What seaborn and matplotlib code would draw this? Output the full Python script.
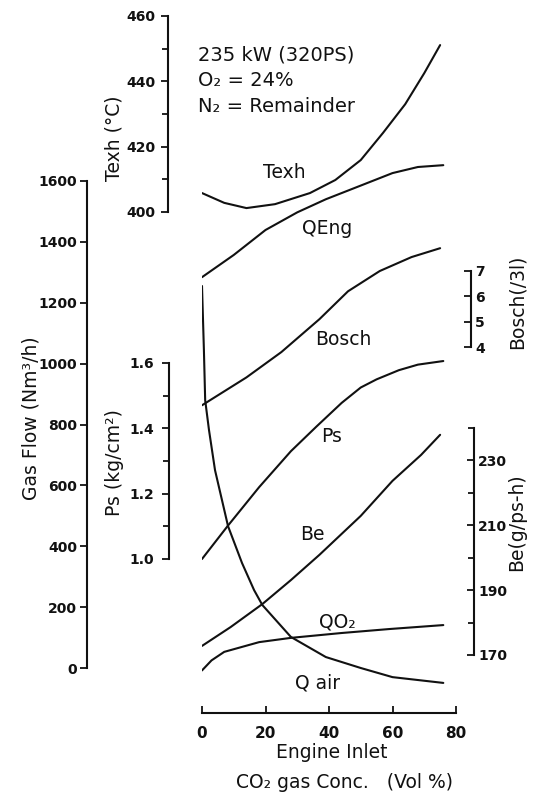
import seaborn as sns
import matplotlib.pyplot as plt
from matplotlib.ticker import FixedLocator, FixedFormatter

# values (x = engine inlet CO2 conc., Vol %)
conc_texh = [0, 7, 14, 23, 34, 42, 50, 57, 64, 70, 75]
texh = [405.8, 402.8, 401.2, 402.4, 405.8, 409.8, 415.9, 424.2, 433.0, 442.5, 451.1]

conc_qeng = [0, 10, 20, 30, 39, 50, 60, 68, 76]
qeng = [1284, 1357, 1439, 1497, 1540, 1585, 1626, 1646, 1652]

conc_bosch = [0, 14, 25, 37, 46, 56, 66, 75]
bosch = [1.7, 2.8, 3.8, 5.1, 6.2, 7.0, 7.55, 7.9]

conc_ps = [0, 8, 18, 28, 36, 44, 50, 55, 62, 68, 76]
ps = [1.00, 1.10, 1.22, 1.33, 1.405, 1.478, 1.525, 1.55, 1.578, 1.595, 1.606]

conc_be = [0, 9, 19, 28, 37, 50, 60, 69, 75]
be = [172.8, 178.6, 185.7, 193.1, 200.9, 212.9, 223.7, 231.7, 237.9]

conc_qo2 = [0, 3, 7, 18, 28, 44, 59, 76]
qo2 = [-8, 25, 53, 85, 99, 115, 128, 141]

conc_qair = [0, 0.6, 1.0, 2.2, 4.1, 8.2, 12.6, 16.4, 19, 28, 39, 50, 60, 76]
qair = [1255, 1045, 880, 782, 650, 466, 345, 256, 207, 102, 36, 0, -30, -49]

x_ticks = [0, 20, 40, 60, 80]
flow_ticks = [0, 200, 400, 600, 800, 1000, 1200, 1400, 1600]
texh_ticks = [400, 420, 440, 460]
ps_ticks = [1.0, 1.2, 1.4, 1.6]
ps_labels = ['1.0', '1.2', '1.4', '1.6']
bosch_ticks = [4, 5, 6, 7]
be_ticks = [170, 190, 210, 230]

# page geometry (pixels of the 555x800 scan)
W, H = 555, 800
TOP, BOT = 16, 713
LEFT, RIGHT = 202, 456

sns.set_theme(style='white')
plt.rcParams['font.family'] = ['DejaVu Sans']
ink = '#111111'

fig = plt.figure(figsize=(W / 100, H / 100), dpi=100)
rect = [LEFT / W, 1 - BOT / H, (RIGHT - LEFT) / W, (BOT - TOP) / H]


def lims(v1, p1, v2, p2):
    # y limits so that value v1 sits at pixel row p1 and v2 at p2
    s = (v2 - v1) / (p1 - p2)
    return v1 - (BOT - p1) * s, v1 + (p1 - TOP) * s


def frac(px):
    return (px - LEFT) / (RIGHT - LEFT)


def y_axis(a, side, xpx, bounds, major, labels=None, minor=None, pad=3):
    for s in a.spines.values():
        s.set_visible(False)
    sp = a.spines[side]
    sp.set_visible(True)
    sp.set_position(('axes', frac(xpx)))
    sp.set_bounds(*bounds)
    sp.set_linewidth(1.5)
    sp.set_color(ink)
    a.yaxis.set_ticks_position(side)
    a.yaxis.set_major_locator(FixedLocator(major))
    if labels is not None:
        a.yaxis.set_major_formatter(FixedFormatter(labels))
    if minor is not None:
        a.yaxis.set_minor_locator(FixedLocator(minor))
    d = 'out' if side == 'left' else 'in'
    a.tick_params(axis='y', which='both', direction=d, color=ink, width=1.3,
                  labelsize=10, pad=pad, labelcolor=ink)
    a.tick_params(axis='y', which='major', length=5)
    a.tick_params(axis='y', which='minor', length=4)
    for t in a.get_yticklabels():
        t.set_fontweight('bold')
    a.set_ylabel('')
    a.set_xlabel('')
    a.tick_params(axis='x', bottom=False, labelbottom=False)
    a.patch.set_visible(False)
    a.grid(False)


ax = fig.add_axes(rect)
ax_t = fig.add_axes(rect, sharex=ax)
ax_p = fig.add_axes(rect, sharex=ax)
ax_b = fig.add_axes(rect, sharex=ax)
ax_e = fig.add_axes(rect, sharex=ax)

line = dict(color=ink, linewidth=1.5)
sns.lineplot(x=conc_qeng, y=qeng, ax=ax, **line)
sns.lineplot(x=conc_qo2, y=qo2, ax=ax, **line)
sns.lineplot(x=conc_qair, y=qair, ax=ax, **line)
sns.lineplot(x=conc_texh, y=texh, ax=ax_t, **line)
sns.lineplot(x=conc_ps, y=ps, ax=ax_p, **line)
sns.lineplot(x=conc_bosch, y=bosch, ax=ax_b, **line)
sns.lineplot(x=conc_be, y=be, ax=ax_e, **line)

ax.set_xlim(0, 80)
ax.set_ylim(*lims(0, 668, 1600, 181))
ax_t.set_ylim(*lims(400, 212, 460, 16))
ax_p.set_ylim(*lims(1.0, 559, 1.6, 363))
ax_b.set_ylim(*lims(4, 347, 7, 271))
ax_e.set_ylim(*lims(170, 655, 240, 428))

y_axis(ax, 'left', 87, (0, 1600), flow_ticks, pad=2)
y_axis(ax_t, 'left', 168, (400, 460), texh_ticks, minor=[410, 430, 450], pad=4)
y_axis(ax_p, 'left', 169, (1.0, 1.6), ps_ticks, labels=ps_labels,
       minor=[1.1, 1.3, 1.5], pad=6)
y_axis(ax_b, 'right', 471, (4, 7), bosch_ticks, pad=3)
y_axis(ax_e, 'right', 474, (170, 240), be_ticks, minor=[180, 200, 220, 240], pad=3)

# x axis on the main axes
ax.spines['bottom'].set_visible(True)
ax.spines['bottom'].set_bounds(0, 80)
ax.spines['bottom'].set_linewidth(1.5)
ax.spines['bottom'].set_color(ink)
ax.xaxis.set_ticks_position('bottom')
ax.xaxis.set_major_locator(FixedLocator(x_ticks))
ax.tick_params(axis='x', bottom=True, labelbottom=True, direction='in',
               length=5, width=1.3, color=ink, labelsize=11, pad=9,
               labelcolor=ink)
for t in ax.get_xticklabels():
    t.set_fontweight('bold')


def put(px, py, s, **kw):
    fig.text(px / W, 1 - py / H, s, color=ink, **kw)


# axis titles
put(114, 138, 'Texh (°C)', rotation=90, ha='center', va='center', fontsize=13.5)
put(31, 418, 'Gas Flow (Nm³/h)', rotation=90, ha='center', va='center', fontsize=13.5)
put(115, 463, 'Ps (kg/cm²)', rotation=90, ha='center', va='center', fontsize=13.5)
put(517, 302, 'Bosch(/3l)', rotation=90, ha='center', va='center', fontsize=13.5)
put(517, 522, 'Be(g/ps-h)', rotation=90, ha='center', va='center', fontsize=13.5)
put(332, 753, 'Engine Inlet', ha='center', va='center', fontsize=13.5)
put(345, 782, 'CO₂ gas Conc.   (Vol %)', ha='center', va='center', fontsize=13.5)

# operating condition note
put(198, 55, '235 kW (320PS)', ha='left', va='center', fontsize=14)
put(198, 81, 'O₂ = 24%', ha='left', va='center', fontsize=14)
put(198, 106, 'N₂ = Remainder', ha='left', va='center', fontsize=14)

# curve names
for px, py, s in [(284, 173, 'Texh'), (327, 229, 'QEng'), (343, 339, 'Bosch'),
                  (332, 437, 'Ps'), (312, 535, 'Be'), (337, 622, 'QO₂'),
                  (318, 683, 'Q air')]:
    put(px, py, s, ha='center', va='center', fontsize=13.5)

fig.savefig('out.png', dpi=100)
